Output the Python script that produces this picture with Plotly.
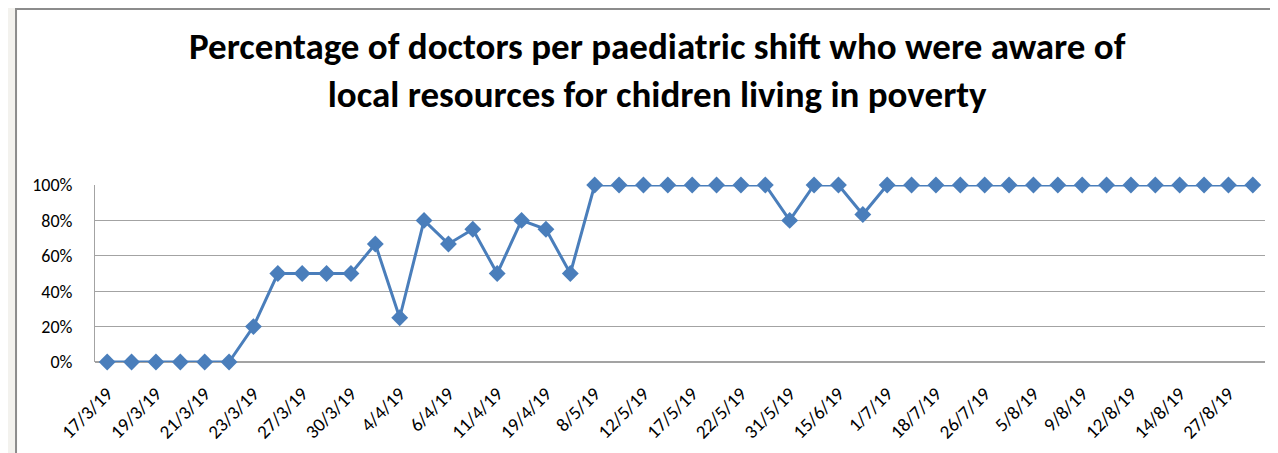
"""
Percentage of doctors per paediatric shift aware of local resources.
Line chart rebuilt with plotly.
"""

import plotly.graph_objects as go

# one point per shift (48 shifts), labels only on every other shift
shift_index = list(range(48))
pct_aware = [
    0, 0, 0, 0, 0, 0, 20, 50, 50, 50, 50, 66.7, 25, 80, 66.7, 75,
    50, 80, 75, 50, 100, 100, 100, 100, 100, 100, 100, 100, 80, 100, 100, 83.3,
    100, 100, 100, 100, 100, 100, 100, 100, 100, 100, 100, 100, 100, 100, 100, 100,
]
tick_positions = list(range(0, 48, 2))
tick_labels = [
    '17/3/19', '19/3/19', '21/3/19', '23/3/19', '27/3/19', '30/3/19',
    '4/4/19', '6/4/19', '11/4/19', '19/4/19', '8/5/19', '12/5/19',
    '17/5/19', '22/5/19', '31/5/19', '15/6/19', '1/7/19', '18/7/19',
    '26/7/19', '5/8/19', '9/8/19', '12/8/19', '14/8/19', '27/8/19',
]
y_ticks = [0, 20, 40, 60, 80, 100]
y_tick_labels = ['0%', '20%', '40%', '60%', '80%', '100%']

FONT = 'Calibri, Carlito, "Liberation Sans Narrow", "Open Sans", sans-serif'
BLUE = '#4a7ebb'
GRID = '#a3a3a3'

fig = go.Figure()

fig.add_trace(go.Scatter(
    x=shift_index,
    y=pct_aware,
    mode='lines+markers',
    line=dict(color=BLUE, width=3),
    marker=dict(symbol='diamond', size=13, color=BLUE),
    cliponaxis=False,
    hovertemplate='%{y:.0f}%<extra></extra>',
))

# white chart area with a grey frame over the light slide background
fig.add_shape(
    type='rect', xref='paper', yref='paper',
    x0=-0.0675, x1=1.05, y0=-0.6, y1=1.995,
    fillcolor='white', line=dict(color='#8c8c8c', width=2),
    layer='below',
)

fig.update_layout(
    width=1278,
    height=453,
    margin=dict(l=87, r=21, t=177, b=99),
    paper_bgcolor='#f3f2ee',
    plot_bgcolor='white',
    showlegend=False,
    title=dict(
        text='Percentage of doctors per paediatric shift who were aware of<br>'
             'local resources for chidren living in poverty',
        x=0.508, xanchor='center', y=0.888, yanchor='top',
        font=dict(family=FONT, size=37, color='black', weight='bold'),
    ),
    font=dict(family=FONT, color='black'),
)

fig.update_xaxes(
    range=[-0.5, 47.5],
    tickvals=tick_positions,
    ticktext=tick_labels,
    tickangle=-45,
    tickfont=dict(size=19),
    showgrid=False,
    zeroline=False,
    showline=False,
    ticks='',
    ticklabelstandoff=16,
)

fig.update_yaxes(
    range=[0, 100],
    tickvals=y_ticks,
    ticktext=y_tick_labels,
    tickfont=dict(size=18),
    showgrid=True,
    gridcolor=GRID,
    gridwidth=1,
    zeroline=True,
    zerolinecolor=GRID,
    showline=True,
    linecolor=GRID,
    ticks='',
    ticklabelstandoff=18,
)

fig.write_html("out.html")
